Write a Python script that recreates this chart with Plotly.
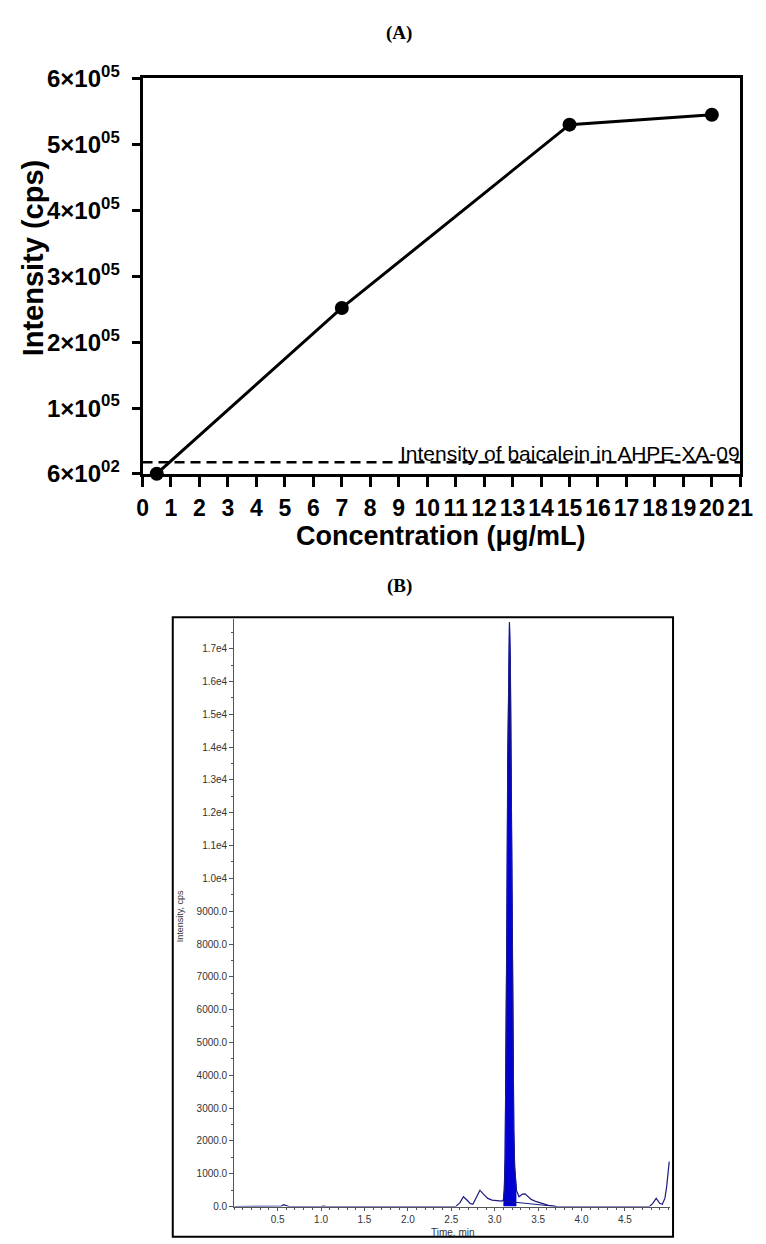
import plotly.graph_objects as go

W, H = 766, 1244

# ---------------- Panel A data ----------------
conc = [0.5, 7, 15, 20]
intensity = [600, 252000, 530000, 545000]
sample_level = 18000
sample_label = "Intensity of baicalein in AHPE-XA-09"
a_xticks = list(range(0, 22))
a_yticks = [600, 100000, 200000, 300000, 400000, 500000, 600000]
a_yticktext = ["6×10<sup>02</sup>", "1×10<sup>05</sup>", "2×10<sup>05</sup>", "3×10<sup>05</sup>",
               "4×10<sup>05</sup>", "5×10<sup>05</sup>", "6×10<sup>05</sup>"]

# ---------------- Panel B data ----------------
chrom_t = [0.00, 0.50, 0.54, 0.57, 0.60, 0.63, 1.00, 1.03, 1.06, 2.35, 2.40, 2.45, 2.55, 2.60, 2.64,
           2.68, 2.72, 2.75, 2.79, 2.83, 2.87, 2.92, 2.97, 3.03, 3.08, 3.10, 3.11, 3.12, 3.13, 3.14,
           3.15, 3.16, 3.17, 3.18, 3.19, 3.20, 3.21, 3.22, 3.23, 3.25, 3.28, 3.32, 3.35, 3.38, 3.42,
           3.48, 3.55, 3.62, 3.70, 3.78, 4.78, 4.82, 4.86, 4.90, 4.93, 4.96, 4.98, 5.00, 5.01]
chrom_i = [0, 0, 10, 60, 30, 0, 0, 15, 0, 0, 15, 0, 0, 120, 300,
           200, 90, 80, 280, 500, 380, 250, 200, 180, 170, 200, 500, 1500, 4000, 8500,
           13500, 16800, 17800, 16600, 12500, 7500, 4200, 2300, 1200, 500, 300, 380, 390, 320, 220,
           150, 90, 40, 10, 0, 0, 100, 250, 100, 70, 250, 600, 1000, 1370]
peak_t = [3.10, 3.11, 3.12, 3.13, 3.14, 3.15, 3.16, 3.17, 3.18, 3.19, 3.20, 3.21, 3.22, 3.23, 3.25]
peak_i = [200, 500, 1500, 4000, 8500, 13500, 16800, 17800, 16600, 12500, 7500, 4200, 2300, 1200, 500]
base_t = [3.10, 3.72]
base_i = [170, 0]
b_yticks = [0, 1000, 2000, 3000, 4000, 5000, 6000, 7000, 8000, 9000,
            10000, 11000, 12000, 13000, 14000, 15000, 16000, 17000]
b_yticktext = ["0.0", "1000.0", "2000.0", "3000.0", "4000.0", "5000.0", "6000.0", "7000.0",
               "8000.0", "9000.0", "1.0e4", "1.1e4", "1.2e4", "1.3e4", "1.4e4", "1.5e4", "1.6e4", "1.7e4"]
b_xticks = [0.5, 1.0, 1.5, 2.0, 2.5, 3.0, 3.5, 4.0, 4.5]


def px(x):
    return x / W


def py(y):
    return 1 - y / H


SANS = "Liberation Sans, Arial, Helvetica"

fig = go.Figure()

# Panel A
fig.add_trace(go.Scatter(x=[0, 21], y=[sample_level, sample_level], mode="lines",
                         line=dict(color="black", width=2.5, dash="10px,6px"),
                         xaxis="x", yaxis="y", showlegend=False, hoverinfo="skip"))
fig.add_trace(go.Scatter(x=conc, y=intensity, mode="lines+markers",
                         line=dict(color="black", width=3),
                         marker=dict(color="black", size=14),
                         cliponaxis=False, xaxis="x", yaxis="y", showlegend=False))

# Panel B
fig.add_trace(go.Scatter(x=peak_t, y=peak_i, mode="lines", fill="tozeroy",
                         fillcolor="#0000d0", line=dict(color="#0000d0", width=1),
                         xaxis="x2", yaxis="y2", showlegend=False))
fig.add_trace(go.Scatter(x=base_t, y=base_i, mode="lines",
                         line=dict(color="#1a1a80", width=1),
                         xaxis="x2", yaxis="y2", showlegend=False))
fig.add_trace(go.Scatter(x=chrom_t, y=chrom_i, mode="lines",
                         line=dict(color="#1a1a80", width=1.2),
                         xaxis="x2", yaxis="y2", showlegend=False))

fig.update_layout(
    width=W, height=H,
    margin=dict(l=0, r=0, t=0, b=0),
    paper_bgcolor="white", plot_bgcolor="white",
    xaxis=dict(domain=[px(140), px(753)], range=[0, 21], tickmode="array", tickvals=a_xticks,
               tickangle=0, ticklabeloverflow="allow",
               ticks="outside", ticklen=10, tickwidth=3, tickcolor="black",
               showline=True, linewidth=3, linecolor="black", mirror=True,
               showgrid=False, zeroline=False, anchor="y", ticklabelstandoff=2,
               tickfont=dict(family=SANS, size=23, color="black", weight="bold")),
    yaxis=dict(domain=[py(468), py(63)], range=[600, 600000], tickmode="array",
               tickvals=a_yticks, ticktext=a_yticktext, ticklabeloverflow="allow",
               ticks="outside", ticklen=8, tickwidth=3, tickcolor="black",
               showline=True, linewidth=3, linecolor="black", mirror=True,
               showgrid=False, zeroline=False, anchor="x", ticklabelstandoff=7,
               tickfont=dict(family=SANS, size=24, color="black", weight="bold")),
    xaxis2=dict(domain=[px(234), px(681)], range=[0, 5.02], tickmode="array", tickvals=b_xticks,
                ticktext=[f"{v:.1f}" for v in b_xticks], tickangle=0,
                ticks="outside", ticklen=3, tickwidth=1, tickcolor="#555",
                minor=dict(dtick=0.1, tick0=0, ticks="outside", ticklen=2, tickwidth=1, tickcolor="#555"),
                showline=True, linewidth=1, linecolor="#555", showgrid=False, zeroline=False,
                tickfont=dict(family=SANS, size=10, color="#333"), anchor="y2"),
    yaxis2=dict(domain=[py(1219), py(617)], range=[0, 17900], tickmode="array",
                tickvals=b_yticks, ticktext=b_yticktext,
                ticks="outside", ticklen=4, tickwidth=1, tickcolor="#555",
                minor=dict(dtick=500, tick0=0, ticks="outside", ticklen=2, tickwidth=1, tickcolor="#555"),
                showline=True, linewidth=1, linecolor="#555", showgrid=False, zeroline=False,
                tickfont=dict(family=SANS, size=10, color="#333"), anchor="x2"),
    shapes=[dict(type="rect", xref="paper", yref="paper",
                 x0=px(171), x1=px(684), y0=py(1250), y1=py(615),
                 line=dict(color="black", width=2), fillcolor="rgba(0,0,0,0)", layer="below")],
    annotations=[
        dict(text="<b>(A)</b>", x=px(403), y=py(16), xref="paper", yref="paper", showarrow=False,
             xanchor="center", yanchor="middle",
             font=dict(family="Liberation Serif, Times New Roman", size=19, color="black")),
        dict(text="<b>(B)</b>", x=px(403), y=py(583), xref="paper", yref="paper", showarrow=False,
             xanchor="center", yanchor="middle",
             font=dict(family="Liberation Serif, Times New Roman", size=19, color="black")),
        dict(text="Intensity (cps)", x=px(28), y=py(247), xref="paper", yref="paper", showarrow=False,
             xanchor="center", yanchor="middle", textangle=-90,
             font=dict(family=SANS, size=29, color="black", weight="bold")),
        dict(text="Concentration (μg/mL)", x=px(446), y=py(532), xref="paper", yref="paper",
             xanchor="center", yanchor="middle", showarrow=False,
             font=dict(family=SANS, size=27, color="black", weight="bold")),
        dict(text=sample_label, x=21, y=sample_level, xref="x", yref="y", xanchor="right",
             yanchor="middle", yshift=9, xshift=2, showarrow=False,
             font=dict(family=SANS, size=21, color="black")),
        dict(text="Intensity, cps", x=px(178), y=py(922), xref="paper", yref="paper", showarrow=False,
             xanchor="center", yanchor="middle", textangle=-90,
             font=dict(family=SANS, size=9, color="#333")),
        dict(text="Time, min", x=px(458), y=py(1238), xref="paper", yref="paper", showarrow=False,
             xanchor="center", yanchor="top", font=dict(family=SANS, size=10, color="#333")),
    ],
)

fig.write_html("out.html")
